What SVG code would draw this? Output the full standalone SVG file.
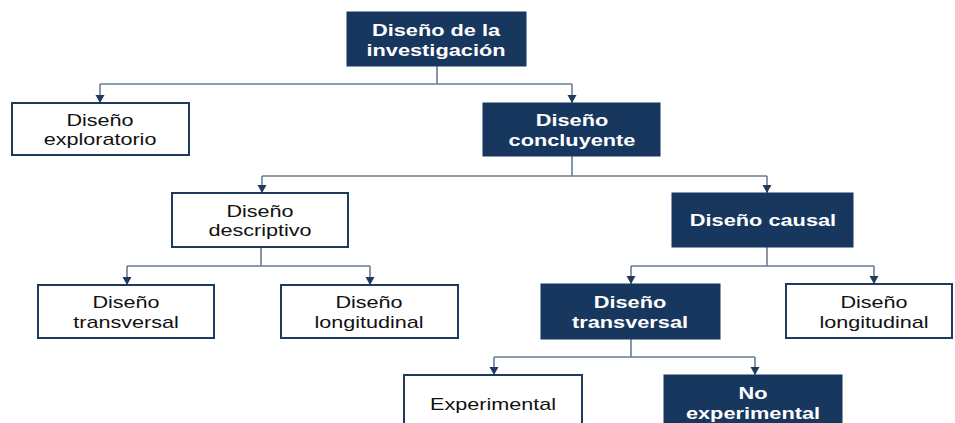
<svg xmlns="http://www.w3.org/2000/svg" width="955" height="423" viewBox="0 0 955 423">
<defs>
<style>
.dk{fill:#17375E;stroke:#17375E;stroke-width:1}
.wt{fill:#FFFFFF;stroke:#1F3A5F;stroke-width:2}
.tw{font-family:"Liberation Sans",Arial,sans-serif;font-size:17px;font-weight:bold;fill:#FFFFFF;text-anchor:middle}
.tb{font-family:"Liberation Sans",Arial,sans-serif;font-size:17px;fill:#111111;text-anchor:middle}
.ln{fill:none;stroke:#6A7D96;stroke-width:1.6}
.ar{fill:none;stroke:#6A7D96;stroke-width:1.6;marker-end:url(#ah)}
</style>
<marker id="ah" markerUnits="userSpaceOnUse" markerWidth="10" markerHeight="10" refX="8" refY="4.5" orient="auto">
<path d="M0,0 L8,4.5 L0,9 z" fill="#1F3A5F"/>
</marker>
</defs>
<rect width="955" height="423" fill="#FFFFFF"/>
<g id="connectors">
<path class="ln" d="M437,66 V84 M100,84 H572"/>
<path class="ar" d="M100,84 V103"/>
<path class="ar" d="M572,84 V103"/>
<path class="ln" d="M572,156 V176 M262,176 H767"/>
<path class="ar" d="M262,176 V193"/>
<path class="ar" d="M767,176 V193"/>
<path class="ln" d="M261,247 V266 M127,266 H370"/>
<path class="ar" d="M127,266 V285"/>
<path class="ar" d="M370,266 V285"/>
<path class="ln" d="M767,247 V266 M631,266 H874"/>
<path class="ar" d="M631,266 V284"/>
<path class="ar" d="M874,266 V284"/>
<path class="ln" d="M631,339 V357 M494,357 H755"/>
<path class="ar" d="M494,357 V375"/>
<path class="ar" d="M755,357 V375"/>
</g>
<g id="n-investigacion">
<rect class="dk" x="347" y="12" width="179" height="54"/>
<text class="tw" transform="translate(436,0) scale(1.28,1)"><tspan x="0" y="36">Diseño de la</tspan><tspan x="0" y="56">investigación</tspan></text>
</g>
<g id="n-exploratorio">
<rect class="wt" x="12" y="103" width="177" height="52"/>
<text class="tb" transform="translate(100,0) scale(1.27,1)"><tspan x="0" y="126">Diseño</tspan><tspan x="0" y="145">exploratorio</tspan></text>
</g>
<g id="n-concluyente">
<rect class="dk" x="483" y="103" width="177" height="53"/>
<text class="tw" transform="translate(572,0) scale(1.28,1)"><tspan x="0" y="126">Diseño</tspan><tspan x="0" y="146">concluyente</tspan></text>
</g>
<g id="n-descriptivo">
<rect class="wt" x="172" y="193" width="176" height="54"/>
<text class="tb" transform="translate(260,0) scale(1.27,1)"><tspan x="0" y="217">Diseño</tspan><tspan x="0" y="236">descriptivo</tspan></text>
</g>
<g id="n-causal">
<rect class="dk" x="672" y="193" width="181" height="54"/>
<text class="tw" transform="translate(763,0) scale(1.28,1)"><tspan x="0" y="226">Diseño causal</tspan></text>
</g>
<g id="n-transversal-1">
<rect class="wt" x="38" y="285" width="176" height="53"/>
<text class="tb" transform="translate(126,0) scale(1.27,1)"><tspan x="0" y="308">Diseño</tspan><tspan x="0" y="328">transversal</tspan></text>
</g>
<g id="n-longitudinal-1">
<rect class="wt" x="281" y="285" width="177" height="53"/>
<text class="tb" transform="translate(369,0) scale(1.27,1)"><tspan x="0" y="308">Diseño</tspan><tspan x="0" y="328">longitudinal</tspan></text>
</g>
<g id="n-transversal-2">
<rect class="dk" x="541" y="284" width="179" height="55"/>
<text class="tw" transform="translate(630,0) scale(1.28,1)"><tspan x="0" y="308">Diseño</tspan><tspan x="0" y="328">transversal</tspan></text>
</g>
<g id="n-longitudinal-2">
<rect class="wt" x="786" y="284" width="166" height="54"/>
<text class="tb" transform="translate(874,0) scale(1.27,1)"><tspan x="0" y="308">Diseño</tspan><tspan x="0" y="328">longitudinal</tspan></text>
</g>
<g id="n-experimental">
<rect class="wt" x="404" y="375" width="178" height="60"/>
<text class="tb" transform="translate(493,0) scale(1.27,1)"><tspan x="0" y="410">Experimental</tspan></text>
</g>
<g id="n-no-experimental">
<rect class="dk" x="664" y="375" width="178" height="60"/>
<text class="tw" transform="translate(753,0) scale(1.28,1)"><tspan x="0" y="399">No</tspan><tspan x="0" y="419">experimental</tspan></text>
</g>
</svg>
